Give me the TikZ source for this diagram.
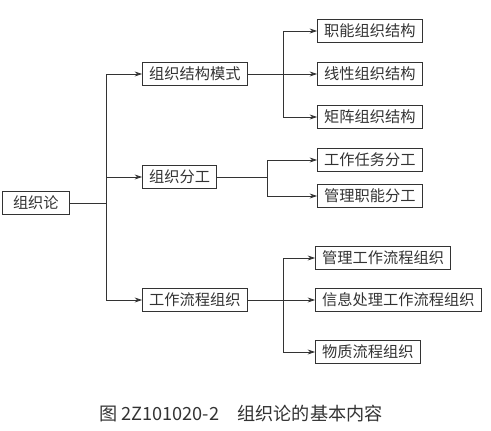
\documentclass[tikz,border=0pt]{standalone}
\usepackage{fontspec}
\setmainfont{Noto Sans CJK SC}
\usetikzlibrary{arrows.meta}
\definecolor{ink}{gray}{0.2}

\begin{document}
\begin{tikzpicture}[x=0.03cm,y=-0.03cm,>={Stealth[length=2.2mm,width=1.5mm]},line width=0.6pt,color=ink,
  box/.style={draw,line width=0.9pt,anchor=west,minimum height=0.69cm,inner xsep=0.2cm,inner ysep=0pt,font=\fontsize{13}{15}\selectfont}]
\useasboundingbox (0,0) rectangle (491,431);
% boxes
\node[box,minimum width=2.0cm] (root) at (2,203) {组织论};
\node[box] (mode) at (142,74) {组织结构模式};
\node[box] (div) at (142,177) {组织分工};
\node[box] (flow) at (142,300) {工作流程组织};
\node[box] (func) at (317,31) {职能组织结构};
\node[box] (line) at (317,74) {线性组织结构};
\node[box] (matrix) at (317,117) {矩阵组织结构};
\node[box] (task) at (317,160) {工作任务分工};
\node[box] (mgmt) at (317,196) {管理职能分工};
\node[box] (mflow) at (315,258) {管理工作流程组织};
\node[box] (iflow) at (315,300) {信息处理工作流程组织};
\node[box] (pflow) at (315,352) {物质流程组织};
% junctions
\coordinate (t0) at (106,203);
\coordinate (t1) at (283,74);
\coordinate (t2) at (267,177);
\coordinate (t3) at (283,300);
% connectors
\draw (root.east) -- (t0);
\draw[->] (t0) |- (mode.west);
\draw[->] (t0) |- (div.west);
\draw[->] (t0) |- (flow.west);
\draw[->] (mode.east) -- (line.west);
\draw[->] (t1) |- (func.west);
\draw[->] (t1) |- (matrix.west);
\draw (div.east) -- (t2);
\draw[->] (t2) |- (task.west);
\draw[->] (t2) |- (mgmt.west);
\draw[->] (flow.east) -- (iflow.west);
\draw[->] (t3) |- (mflow.west);
\draw[->] (t3) |- (pflow.west);
% caption
\node[font=\fontsize{15.5}{18}\selectfont] (cap) at (241,414) {图 2Z101020-2\quad 组织论的基本内容};
\end{tikzpicture}
\end{document}
